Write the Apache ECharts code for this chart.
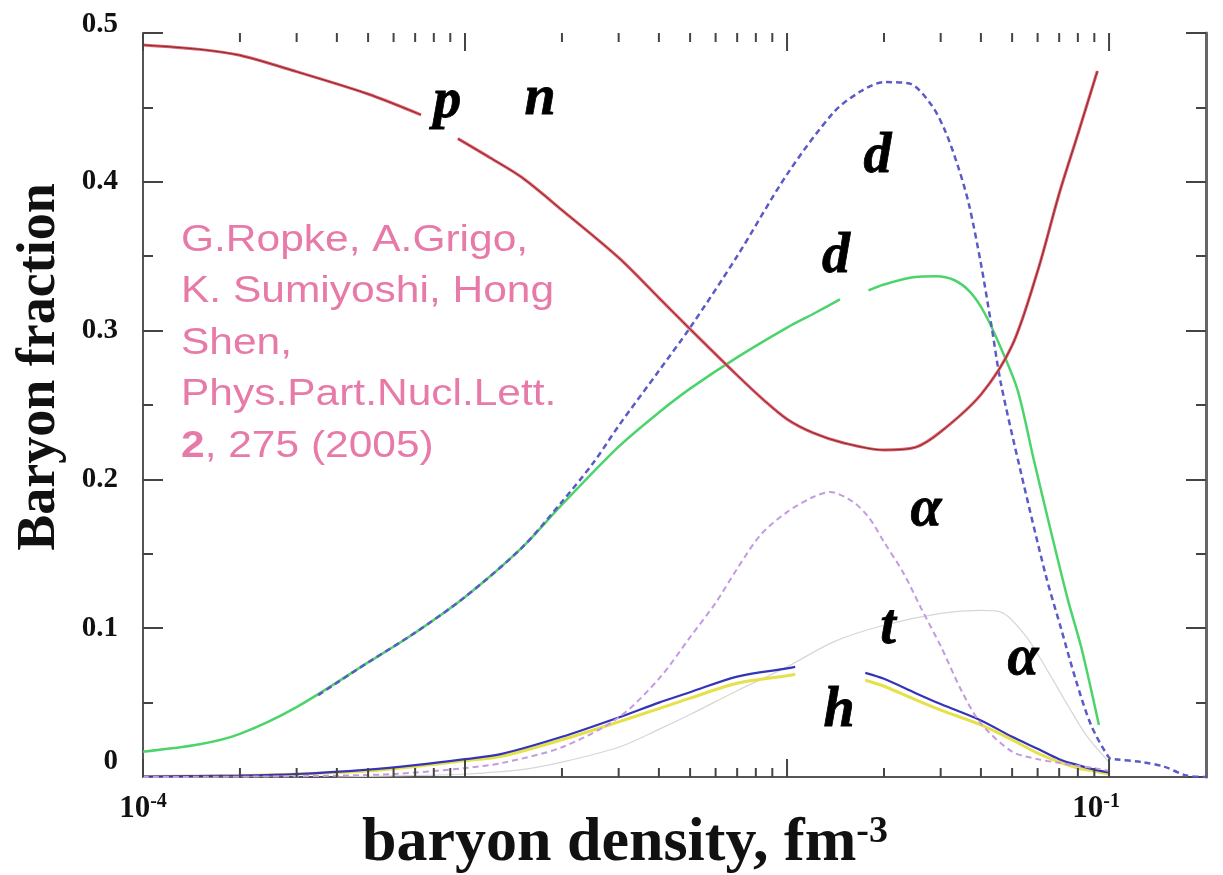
<!DOCTYPE html>
<html>
<head>
<meta charset="utf-8">
<script src="https://cdn.jsdelivr.net/npm/echarts@6/dist/echarts.min.js"></script>
<style>
  html, body { margin: 0; padding: 0; background: #ffffff; }
  #chart { width: 1223px; height: 875px; }
</style>
</head>
<body>
<div id="chart"></div>
<script>
// Baryon fractions of light clusters versus baryon density (fm^-3).
// null marks a break in a curve (where a label sits).

// p, n (identical curves)
const pnDensity  = [1e-4, 1.5e-4, 2e-4, 3e-4, 5e-4, 7.3e-4, 8.2e-4, 9.5e-4, 1.2e-3, 1.5e-3, 2e-3, 3e-3, 4e-3, 5e-3, 7e-3, 8.5e-3, 1e-2, 1.2e-2, 1.5e-2, 2e-2, 2.5e-2, 3e-2, 4e-2, 5e-2, 6e-2, 7e-2, 8e-2, 0.092];
const pnFraction = [0.492, 0.489, 0.485, 0.474, 0.459, 0.445, null, 0.429, 0.416, 0.403, 0.381, 0.349, 0.322, 0.301, 0.270, 0.253, 0.2405, 0.2315, 0.2245, 0.2198, 0.2215, 0.232, 0.257, 0.290, 0.340, 0.392, 0.432, 0.4745];

// d (solid)
const dDensity  = [1e-4, 1.5e-4, 2e-4, 3e-4, 5e-4, 7e-4, 1e-3, 1.5e-3, 2e-3, 3e-3, 4e-3, 5e-3, 7e-3, 1e-2, 1.2e-2, 1.46e-2, 1.6e-2, 1.79e-2, 2e-2, 2.5e-2, 2.9e-2, 3.3e-2, 3.7e-2, 4.1e-2, 4.6e-2, 5.2e-2, 5.84e-2, 6.6e-2, 7.45e-2, 8.2e-2, 0.093];
const dFraction = [0.017, 0.022, 0.029, 0.047, 0.077, 0.097, 0.121, 0.154, 0.183, 0.222, 0.245, 0.261, 0.282, 0.302, 0.311, 0.321, null, 0.327, 0.331, 0.336, 0.3365, 0.334, 0.326, 0.312, 0.289, 0.260, 0.213, 0.165, 0.119, 0.087, 0.035];

// d (dashed)
const dDashDensity  = [3.5e-4, 5e-4, 7e-4, 1e-3, 1.5e-3, 2e-3, 2.5e-3, 3e-3, 4e-3, 5e-3, 7e-3, 1e-2, 1.4e-2, 1.7e-2, 2e-2, 2.4e-2, 2.8e-2, 3.1e-2, 3.4e-2, 3.67e-2, 4e-2, 4.3e-2, 4.61e-2, 5.32e-2, 6.37e-2, 7.09e-2, 7.89e-2, 8.79e-2, 0.1, 0.104, 0.127, 0.148, 0.174, 0.2];
const dDashFraction = [0.055, 0.077, 0.097, 0.121, 0.154, 0.185, 0.211, 0.236, 0.273, 0.302, 0.350, 0.405, 0.447, 0.461, 0.467, 0.466, 0.452, 0.434, 0.410, 0.385, 0.345, 0.305, 0.265, 0.205, 0.135, 0.100, 0.065, 0.035, 0.013, 0.012, 0.010, 0.007, 0.001, 0.0];

// alpha (dashed)
const alphaDensity  = [1e-4, 3e-4, 6e-4, 1e-3, 1.3e-3, 2e-3, 3e-3, 4e-3, 5e-3, 6e-3, 7e-3, 8.3e-3, 1e-2, 1.2e-2, 1.36e-2, 1.6e-2, 1.8e-2, 2e-2, 2.3e-2, 2.6e-2, 3e-2, 3.5e-2, 4e-2, 5e-2, 6e-2, 7e-2, 8e-2, 9e-2, 0.1];
const alphaFraction = [0.0, 0.0005, 0.002, 0.006, 0.0094, 0.020, 0.040, 0.066, 0.094, 0.117, 0.140, 0.163, 0.178, 0.188, 0.1915, 0.185, 0.174, 0.158, 0.137, 0.114, 0.088, 0.057, 0.036, 0.017, 0.012, 0.0095, 0.0075, 0.006, 0.004];

// t (solid)
const tDensity  = [1e-4, 2e-4, 3e-4, 5e-4, 7e-4, 1e-3, 1.3e-3, 2e-3, 3e-3, 4e-3, 5e-3, 7e-3, 1e-2, 1.06e-2, 1.3e-2, 1.75e-2, 2e-2, 2.5e-2, 3e-2, 4e-2, 5e-2, 6e-2, 7e-2, 8e-2, 9e-2, 0.1];
const tFraction = [0.0003, 0.001, 0.002, 0.005, 0.008, 0.012, 0.0155, 0.027, 0.040, 0.050, 0.057, 0.0675, 0.073, 0.074, null, 0.070, 0.066, 0.0565, 0.049, 0.038, 0.027, 0.019, 0.012, 0.008, 0.005, 0.003];

// h (solid)
const hDensity  = [1e-4, 2e-4, 3e-4, 5e-4, 7e-4, 1e-3, 1.3e-3, 2e-3, 3e-3, 4e-3, 5e-3, 7e-3, 1e-2, 1.06e-2, 1.3e-2, 1.75e-2, 2e-2, 2.5e-2, 3e-2, 4e-2, 5e-2, 6e-2, 7e-2, 8e-2, 9e-2, 0.1];
const hFraction = [0.0003, 0.001, 0.002, 0.004, 0.007, 0.011, 0.014, 0.025, 0.037, 0.046, 0.053, 0.063, 0.068, 0.069, null, 0.065, 0.061, 0.052, 0.045, 0.035, 0.025, 0.016, 0.010, 0.006, 0.004, 0.002];

// alpha (faint)
const alphaFaintDensity  = [4e-4, 7e-4, 1e-3, 1.5e-3, 2e-3, 3e-3, 4e-3, 5e-3, 7e-3, 1e-2, 1.4e-2, 2e-2, 3e-2, 4e-2, 4.6e-2, 5.5e-2, 6.5e-2, 7.5e-2, 8.5e-2, 0.1];
const alphaFaintFraction = [0.0, 0.001, 0.002, 0.005, 0.010, 0.020, 0.032, 0.042, 0.058, 0.074, 0.091, 0.102, 0.110, 0.112, 0.111, 0.095, 0.070, 0.047, 0.028, 0.010];

// curve labels: [density, fraction, text]
const curveLabels = [
  [8.8e-4, 0.453, 'p'],
  [1.71e-3, 0.455, 'n'],
  [1.91e-2, 0.416, 'd'],
  [1.42e-2, 0.349, 'd'],
  [2.70e-2, 0.179, 'α'],
  [2.06e-2, 0.100, 't'],
  [1.45e-2, 0.044, 'h'],
  [5.40e-2, 0.079, 'α']
];

// axes
const densityMin = 1e-4, densityMax = 0.2;
const fractionMin = 0, fractionMax = 0.5, fractionStep = 0.1;
const xLabelExponents = [-4, -1];
const majorDecades = [-4, -3, -2, -1];
const minorMultipliers = [2, 3, 4, 5, 6, 7, 8, 9];
const minorDecades = [-4, -3, -2];

const citationLines = [
  'G.Ropke, A.Grigo,',
  'K. Sumiyoshi, Hong',
  'Shen,',
  'Phys.Part.Nucl.Lett.'
];
const citationVolume = '2';
const citationRest = ', 275 (2005)';

const SERIF = '"Liberation Serif", "Times New Roman", serif';
const SANS = '"Liberation Sans", Arial, sans-serif';

function pairs(xs, ys) {
  return xs.map((x, i) => [x, ys[i] == null ? '-' : ys[i]]);
}

// density ticks: [density, 1 = decade / 0 = intermediate]
const densityTicks = [];
majorDecades.forEach(e => densityTicks.push([Math.pow(10, e), 1]));
minorDecades.forEach(e => minorMultipliers.forEach(m => densityTicks.push([m * Math.pow(10, e), 0])));

function xLabel(v) {
  const e = Math.log10(v);
  const r = Math.round(e);
  if (Math.abs(e - r) > 1e-6 || xLabelExponents.indexOf(r) < 0) return '';
  return r === -1 ? '{b|10}{s|' + r + '}{gap|}' : '{b|10}{s|' + r + '}';
}

function yLabel(v) {
  if (Math.abs(v) < 1e-9) return '{z|0}';
  if (Math.abs(v - fractionMax) < 1e-9) return '{t|' + v.toFixed(1) + '}';
  return '{n|' + v.toFixed(1) + '}';
}

function lineSeries(name, xs, ys, color, width, dashed, z) {
  return {
    name: name,
    type: 'line',
    data: pairs(xs, ys),
    showSymbol: false,
    smooth: 0.3,
    connectNulls: false,
    silent: true,
    z: z,
    lineStyle: { color: color, width: width, type: dashed ? [6, 4] : 'solid' }
  };
}

const tickColor = '#444';
const boxLine = { show: true, lineStyle: { color: '#555', width: 2 } };
const yLabelFont = { fontFamily: SERIF, fontWeight: 'bold', fontSize: 29, color: '#111' };

// inward tick marks on the bottom and top frame lines, placed by the log axis
function renderDensityTick(params, api) {
  const x = api.value(0);
  const len = api.value(1) ? 18 : 9;
  const bottom = api.coord([x, fractionMin]);
  const top = api.coord([x, fractionMax]);
  const style = { stroke: tickColor, lineWidth: 2 };
  return {
    type: 'group',
    children: [
      { type: 'line', shape: { x1: bottom[0], y1: bottom[1], x2: bottom[0], y2: bottom[1] - len }, style: style },
      { type: 'line', shape: { x1: top[0], y1: top[1], x2: top[0], y2: top[1] + len }, style: style }
    ]
  };
}

const chart = echarts.init(document.getElementById('chart'));
chart.setOption({
  animation: false,
  backgroundColor: '#ffffff',
  grid: { left: 143, right: 17, top: 33, bottom: 98 },
  xAxis: [
    {
      type: 'log', logBase: 10, min: densityMin, max: densityMax, position: 'bottom',
      axisLine: boxLine, axisTick: { show: false }, splitLine: { show: false }, minorTick: { show: false },
      axisLabel: {
        margin: 15, formatter: xLabel,
        rich: {
          b: { fontFamily: SERIF, fontWeight: 'bold', fontSize: 31, color: '#111', lineHeight: 34 },
          s: { fontFamily: SERIF, fontWeight: 'bold', fontSize: 20, color: '#111', verticalAlign: 'top', lineHeight: 20 },
          gap: { width: 26 }
        }
      }
    },
    {
      type: 'log', logBase: 10, min: densityMin, max: densityMax, position: 'top',
      axisLine: boxLine, axisTick: { show: false }, axisLabel: { show: false }, splitLine: { show: false }, minorTick: { show: false }
    }
  ],
  yAxis: [
    {
      type: 'value', min: fractionMin, max: fractionMax, interval: fractionStep, position: 'left',
      axisLine: boxLine,
      axisTick: { show: true, inside: true, length: 20, lineStyle: { color: tickColor, width: 2 } },
      minorTick: { show: true, splitNumber: 2, length: 10, lineStyle: { color: tickColor, width: 2 } },
      splitLine: { show: false },
      axisLabel: {
        margin: 25, formatter: yLabel,
        rich: {
          n: Object.assign({}, yLabelFont),
          z: Object.assign({ padding: [0, 0, 30, 0] }, yLabelFont),
          t: Object.assign({ padding: [0, 0, 16, 0] }, yLabelFont)
        }
      }
    },
    {
      type: 'value', min: fractionMin, max: fractionMax, interval: fractionStep, position: 'right',
      axisLine: { show: true, lineStyle: { color: '#666', width: 3 } },
      axisTick: { show: true, inside: true, length: 20, lineStyle: { color: tickColor, width: 2 } },
      minorTick: { show: true, splitNumber: 2, length: 10, lineStyle: { color: tickColor, width: 2 } },
      splitLine: { show: false }, axisLabel: { show: false }
    }
  ],
  series: [
    {
      name: 'density ticks',
      type: 'custom',
      data: densityTicks,
      encode: { x: 0, y: 1 },
      renderItem: renderDensityTick,
      clip: false,
      silent: true,
      z: 20
    },
    lineSeries('α faint', alphaFaintDensity, alphaFaintFraction, '#d6d6d6', 1.2, false, 2),
    lineSeries('h', hDensity, hFraction, '#e6e04a', 3, false, 3),
    lineSeries('t', tDensity, tFraction, '#3434b8', 2.2, false, 4),
    lineSeries('α', alphaDensity, alphaFraction, '#c49ae0', 2, true, 5),
    lineSeries('d', dDensity, dFraction, '#4cd46c', 2.5, false, 6),
    lineSeries('d dashed', dDashDensity, dDashFraction, '#5a5ac8', 2.5, true, 7),
    lineSeries('p', pnDensity, pnFraction, '#e25a66', 3, false, 8),
    lineSeries('n', pnDensity, pnFraction, '#7a2a30', 1, false, 9),
    {
      name: 'labels',
      type: 'scatter',
      data: curveLabels,
      symbolSize: 1,
      silent: true,
      z: 10,
      itemStyle: { color: 'rgba(0,0,0,0)', opacity: 1 },
      label: {
        show: true, position: 'inside', formatter: p => p.data[2], opacity: 1,
        fontFamily: SERIF, fontStyle: 'italic', fontWeight: 'bold', fontSize: 56, color: '#000',
        textBorderColor: '#000', textBorderWidth: 0.8
      }
    }
  ],
  graphic: [
    {
      type: 'text', x: 40, y: 367, rotation: Math.PI / 2, silent: true,
      style: {
        text: 'Baryon fraction', fill: '#111', align: 'center', verticalAlign: 'middle',
        font: 'bold 54px ' + SERIF
      }
    },
    {
      type: 'text', x: 625, y: 844, silent: true,
      style: {
        text: '{m|baryon density, fm}{s|-3}', align: 'center', verticalAlign: 'middle',
        rich: {
          m: { font: 'bold 62px ' + SERIF, fill: '#111', lineHeight: 62 },
          s: { font: 'bold 38px ' + SERIF, fill: '#111', lineHeight: 38, verticalAlign: 'top' }
        }
      }
    },
    {
      type: 'text', x: 181, y: 215, scaleX: 1.18, silent: true,
      style: {
        text: citationLines.map(l => '{n|' + l + '}').join('\n') + '\n{v|' + citationVolume + '}{n|' + citationRest + '}',
        align: 'left', verticalAlign: 'top',
        rich: {
          n: { font: '36px ' + SANS, fill: '#e77aa9', lineHeight: 51.5 },
          v: { font: 'bold 36px ' + SANS, fill: '#e77aa9', lineHeight: 51.5 }
        }
      }
    }
  ]
});
</script>
</body>
</html>
